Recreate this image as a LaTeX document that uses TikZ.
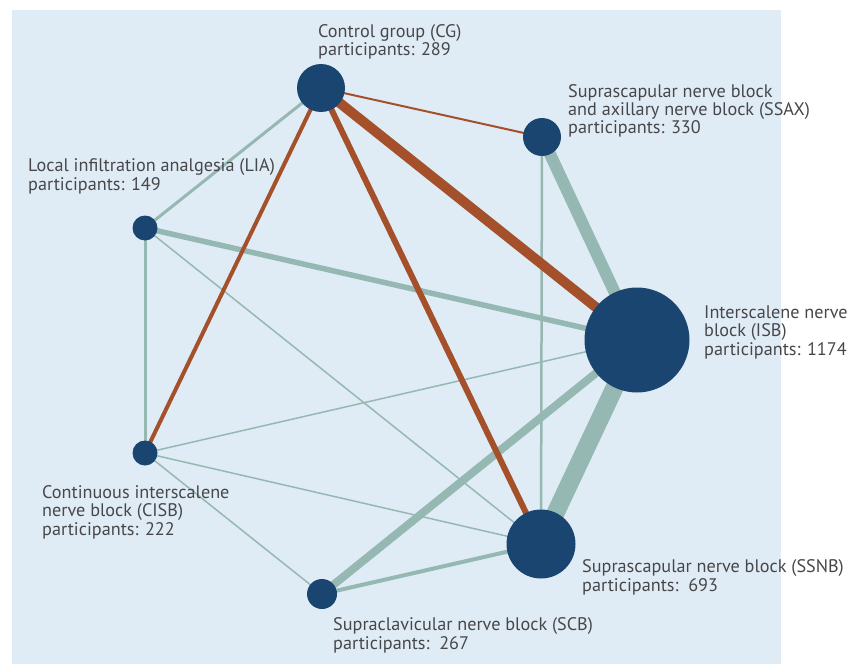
\documentclass[tikz,border=0pt]{standalone}
\usepackage{fontspec}
\setmainfont{PT Sans}
\definecolor{bgblue}{HTML}{E0ECF5}
\definecolor{nodeblue}{HTML}{1A4570}
\definecolor{edgered}{HTML}{A3502B}
\definecolor{edgegreen}{HTML}{96B8B2}
\definecolor{txtgray}{HTML}{47474A}
\pgfdeclarelayer{edges}
\pgfsetlayers{edges,main}
\begin{document}
\begin{tikzpicture}[x=1pt,y=-1pt,
  nd/.style={circle,fill=nodeblue,inner sep=0pt,minimum size=#1},
  lbl/.style={anchor=base west,align=left,inner sep=0pt,text=txtgray,font=\fontsize{18.2}{18.3}\selectfont},
  rd/.style={draw=edgered,line width=#1},
  gr/.style={draw=edgegreen,line width=#1}]
\useasboundingbox (0,0) rectangle (849,666);
% nodes
\node[nd=48pt] (CG) at (321,88) {};
\node[nd=38pt] (SSAX) at (542,137) {};
\node[nd=25pt] (LIA) at (145,228) {};
\node[nd=105pt] (ISB) at (637,340) {};
\node[nd=25pt] (CISB) at (145,453) {};
\node[nd=69pt] (SSNB) at (541,544) {};
\node[nd=30pt] (SCB) at (322,594) {};
% labels (anchored at the baseline of the last line)
\node[lbl] (lCG) at (318,56) {Control group (CG)\\participants: 289};
\node[lbl] (lSSAX) at (568,134) {Suprascapular nerve block\\and axillary nerve block (SSAX)\\participants: 330};
\node[lbl] (lLIA) at (28,190) {Local infiltration analgesia (LIA)\\participants: 149};
\node[lbl] (lISB) at (704,355) {Interscalene nerve\\block (ISB)\\participants: 1174};
\node[lbl] (lCISB) at (42,535) {Continuous interscalene\\nerve block (CISB)\\participants: 222};
\node[lbl] (lSSNB) at (582,591) {Suprascapular nerve block (SSNB)\\participants:~~693};
\node[lbl] (lSCB) at (333,649) {Supraclavicular nerve block (SCB)\\participants:~~267};
\begin{pgfonlayer}{edges}
\fill[bgblue] (12,10) rectangle (781,664);
% green edges
\draw[gr=3] (CG.center) -- (LIA.center);
\draw[gr=5.5] (LIA.center) -- (ISB.center);
\draw[gr=3] (LIA.center) -- (CISB.center);
\draw[gr=1.5] (LIA.center) -- (SSNB.center);
\draw[gr=12] (SSAX.center) -- (ISB.center);
\draw[gr=2.5] (SSAX.center) -- (SSNB.center);
\draw[gr=18] (ISB.center) -- (SSNB.center);
\draw[gr=1.5] (ISB.center) -- (CISB.center);
\draw[gr=8] (ISB.center) -- (SCB.center);
\draw[gr=1.5] (CISB.center) -- (SSNB.center);
\draw[gr=1.5] (CISB.center) -- (SCB.center);
\draw[gr=4] (SCB.center) -- (SSNB.center);
% red edges
\draw[rd=2] (CG.center) -- (SSAX.center);
\draw[rd=10] (CG.center) -- (ISB.center);
\draw[rd=6] (CG.center) -- (SSNB.center);
\draw[rd=4] (CG.center) -- (CISB.center);
\end{pgfonlayer}
\end{tikzpicture}
\end{document}
